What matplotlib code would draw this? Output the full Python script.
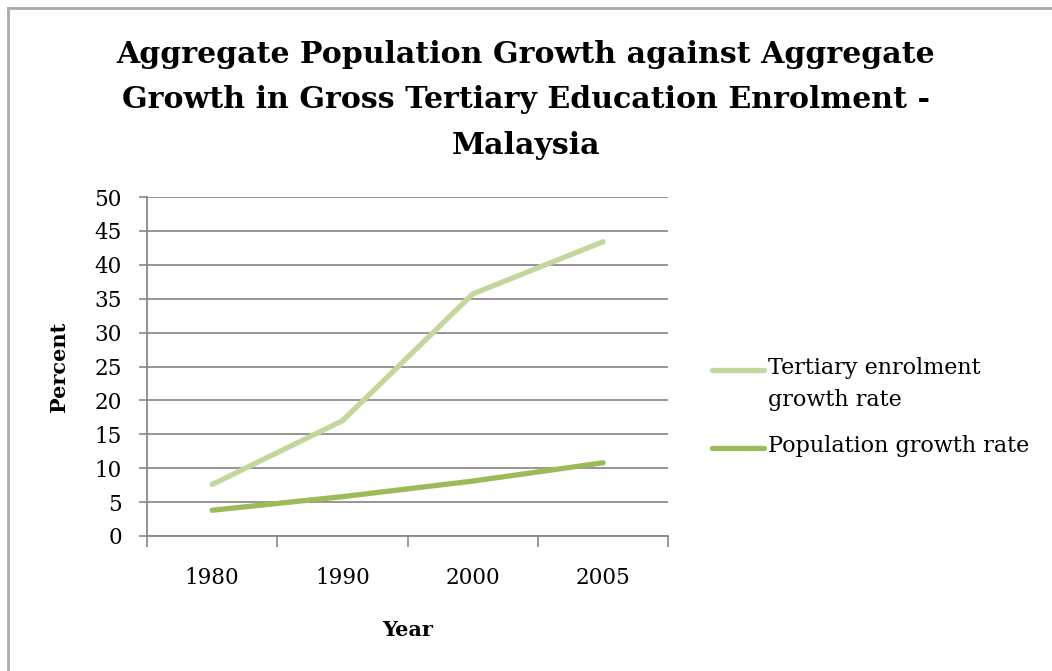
import matplotlib.pyplot as plt
from matplotlib.lines import Line2D

years = ['1980', '1990', '2000', '2005']
tertiary = [7.6, 17.0, 35.7, 43.4]
population = [3.8, 5.8, 8.1, 10.8]

plt.rcParams['font.family'] = ['DejaVu Serif']

fig = plt.figure(figsize=(10.52, 6.71), dpi=100)
ax = fig.add_axes([0.1397, 0.2012, 0.4955, 0.5052])

tert_color = '#C3D69B'
pop_color = '#9BBB59'

x = range(len(years))
ax.plot(x, tertiary, color=tert_color, lw=3.8, solid_capstyle='round', zorder=3)
ax.plot(x, population, color=pop_color, lw=3.8, solid_capstyle='round', zorder=3)

ax.set_xlim(-0.5, len(years) - 0.5)
ax.set_ylim(0, 50)
ax.set_yticks(range(0, 51, 5))
ax.set_xticks([i - 0.5 for i in range(len(years) + 1)])
ax.set_xticklabels([])
ax.set_xticks(list(x), minor=True)
ax.set_xticklabels(years, minor=True)
ax.tick_params(axis='x', which='major', length=8, width=1.2, color='#888888', direction='out')
ax.tick_params(axis='x', which='minor', length=0, pad=22, labelsize=15.5)
ax.tick_params(axis='y', length=6, width=1.2, color='#888888', labelsize=15.5, pad=12)

ax.grid(axis='y', color='#8c8c8c', lw=1.3)
ax.set_axisbelow(True)
for side in ['top', 'right']:
    ax.spines[side].set_visible(False)
for side in ['left', 'bottom']:
    ax.spines[side].set_color('#888888')
    ax.spines[side].set_linewidth(1.3)

ax.set_xlabel('Year', fontsize=15, fontweight='bold', labelpad=23)
ax.set_ylabel('Percent', fontsize=15, fontweight='bold', labelpad=18)

fig.text(0.5, 0.851, 'Aggregate Population Growth against Aggregate\n'
         'Growth in Gross Tertiary Education Enrolment -\nMalaysia',
         ha='center', va='center', fontsize=21.6, fontweight='bold', linespacing=1.72)

# legend drawn by hand so the handle sits on the first text line
W, H = 1052, 671
legend_items = [(tert_color, 'Tertiary enrolment\ngrowth rate', 370),
                (pop_color, 'Population growth rate', 448)]
for color, label, ypix in legend_items:
    yf = 1 - ypix / H
    fig.add_artist(Line2D([712 / W, 764 / W], [yf, yf], color=color, lw=3.8,
                          solid_capstyle='round'))
    fig.text(768 / W, yf + 13 / H, label, ha='left', va='top', fontsize=16,
             linespacing=1.6)

# outer frame
fig.add_artist(Line2D([8 / W, 8 / W], [0, 1 - 8 / H], color='#ababab', lw=2))
fig.add_artist(Line2D([8 / W, 1], [1 - 8 / H, 1 - 8 / H], color='#ababab', lw=2))

fig.savefig('out.png', dpi=100)
